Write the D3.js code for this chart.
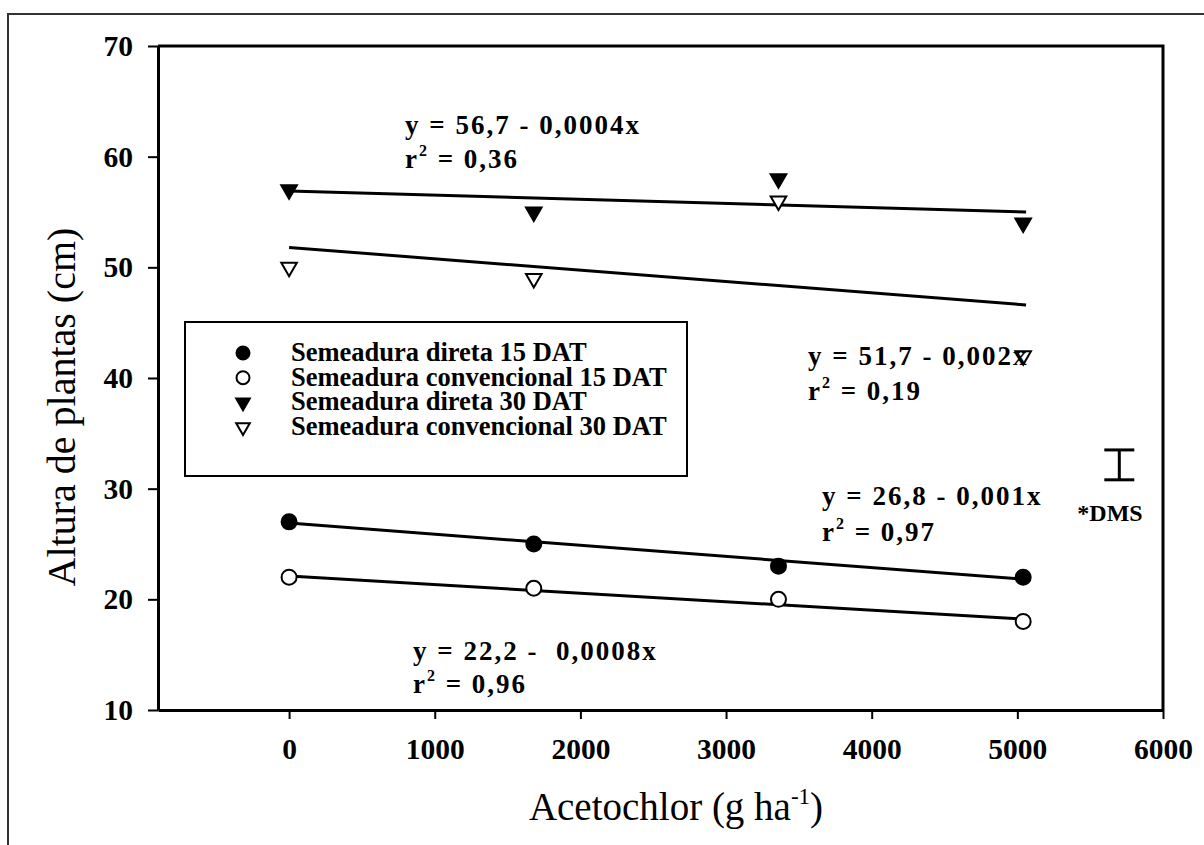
<!DOCTYPE html>
<html><head><meta charset="utf-8">
<script src="https://cdn.jsdelivr.net/npm/d3@7"></script>
<style>html,body{margin:0;padding:0;background:#fff;}svg{display:block;}</style>
</head><body>
<script>
// ---- data ----
const doses = [0, 1680, 3360, 5040];
const seriesNames = ["Semeadura direta 15 DAT","Semeadura convencional 15 DAT","Semeadura direta 30 DAT","Semeadura convencional 30 DAT"];
const direta15 = [27, 25, 23, 22];
const conv15 = [22, 21, 20, 18];
const direta30 = [57, 55, 58, 54];
const conv30 = [50, 49, 56, 42];
const fitX = [0, 5060];
const fitDireta15 = [26.9, 21.8];
const fitConv15 = [22.1, 18.2];
const fitDireta30 = [56.9, 55.0];
const fitConv30 = [51.8, 46.6];
const xTicks = [0, 1000, 2000, 3000, 4000, 5000, 6000];
const yTicks = [10, 20, 30, 40, 50, 60, 70];
const eqText = ["y = 56,7 - 0,0004x", "y = 51,7 - 0,002x", "y = 26,8 - 0,001x", "y = 22,2 -  0,0008x"];
const r2Text = ["0,36", "0,19", "0,97", "0,96"];
const dmsRange = [30.8, 33.5];
const dmsX = 5700;

// ---- layout ----
const W = 1204, H = 845;
const m = {l: 158, t: 46, r: 1163, b: 710};
const svg = d3.select("body").append("svg").attr("width", W).attr("height", H);
const x = d3.scaleLinear().domain([-900, 6000]).range([m.l, m.r]);
const y = d3.scaleLinear().domain([10, 70]).range([m.b, m.t]);
const serif = "'Liberation Serif','Times New Roman',serif";

// outer frame
svg.append("rect").attr("x", 8).attr("y", 14).attr("width", 1300).attr("height", 1000)
  .attr("fill", "none").attr("stroke", "#333").attr("stroke-width", 2);

// axes
const xAxis = svg.append("g").attr("transform", `translate(0,${m.b})`)
  .call(d3.axisBottom(x).tickValues(xTicks).tickSize(9).tickSizeOuter(0).tickPadding(19).tickFormat(d3.format("d")));
const yAxis = svg.append("g").attr("transform", `translate(${m.l},0)`)
  .call(d3.axisLeft(y).tickValues(yTicks).tickSize(10).tickSizeOuter(0).tickPadding(15));
[xAxis, yAxis].forEach(g => {
  g.select(".domain").attr("stroke", "#000").attr("stroke-width", 3);
  g.selectAll(".tick line").attr("stroke", "#000").attr("stroke-width", 2);
  g.selectAll(".tick text").attr("font-family", serif).attr("font-weight", "bold")
    .attr("font-size", 29.5).attr("fill", "#000");
});
// top & right frame of plot
svg.append("path").attr("d", d3.line()([[m.l, m.t], [m.r, m.t], [m.r, m.b]]))
  .attr("fill", "none").attr("stroke", "#000").attr("stroke-width", 3);

// axis titles
svg.append("text").attr("x", 676).attr("y", 820).attr("text-anchor", "middle")
  .attr("font-family", serif).attr("font-size", 39).attr("fill", "#000")
  .call(t => {
    t.append("tspan").text("Acetochlor (g ha");
    t.append("tspan").attr("font-size", 23).attr("dy", -16).text("-1");
    t.append("tspan").attr("dy", 16).text(")");
  });
svg.append("text").attr("transform", "translate(75,407) rotate(-90)").attr("text-anchor", "middle")
  .attr("font-family", serif).attr("font-size", 40).attr("fill", "#000")
  .text("Altura de plantas (cm)");

// regression lines
const line = d3.line().x(d => x(d[0])).y(d => y(d[1]));
[fitDireta15, fitConv15, fitDireta30, fitConv30].forEach(f => {
  svg.append("path").attr("d", line(fitX.map((xv, i) => [xv, f[i]])))
    .attr("fill", "none").attr("stroke", "#000").attr("stroke-width", 3);
});

// markers
const tri = d3.symbol().type(d3.symbolTriangle).size(105)();
const triSmall = d3.symbol().type(d3.symbolTriangle).size(80)();
const series = [
  {vals: direta15, shape: "circle", fill: "#000"},
  {vals: conv15, shape: "circle", fill: "#fff"},
  {vals: direta30, shape: "tri", fill: "#000"},
  {vals: conv30, shape: "tri", fill: "#fff"}
];
series.forEach(s => {
  const g = svg.append("g");
  doses.forEach((dv, i) => {
    if (s.shape === "circle") {
      g.append("circle").attr("cx", x(dv)).attr("cy", y(s.vals[i])).attr("r", 7.5)
        .attr("fill", s.fill).attr("stroke", "#000").attr("stroke-width", 2);
    } else {
      g.append("path").attr("d", tri)
        .attr("transform", `translate(${x(dv)},${y(s.vals[i])}) rotate(180)`)
        .attr("fill", s.fill).attr("stroke", "#000").attr("stroke-width", 2);
    }
  });
});

// equations
const eqPos = [[405, 134, 168], [808, 365, 400], [822, 505, 541], [413, 660, 693]];
eqPos.forEach((p, i) => {
  svg.append("text").attr("x", p[0]).attr("y", p[1]).attr("font-family", serif)
    .attr("font-weight", "bold").attr("font-size", 27).attr("letter-spacing", 2).attr("fill", "#000")
    .style("white-space", "pre").text(eqText[i]);
  const t = svg.append("text").attr("x", p[0]).attr("y", p[2]).attr("font-family", serif)
    .attr("font-weight", "bold").attr("font-size", 27).attr("letter-spacing", 2).attr("fill", "#000");
  t.append("tspan").text("r");
  t.append("tspan").attr("font-size", 16).attr("dy", -12).text("2");
  t.append("tspan").attr("dy", 12).text(" = " + r2Text[i]);
});

// legend
const lg = svg.append("g");
lg.append("rect").attr("x", 185).attr("y", 322).attr("width", 502).attr("height", 154)
  .attr("fill", "#fff").attr("stroke", "#000").attr("stroke-width", 2);
seriesNames.forEach((name, i) => {
  const cy = 353 + i * 24.7;
  const s = series[i];
  if (s.shape === "circle") {
    lg.append("circle").attr("cx", 243).attr("cy", cy).attr("r", 6.5)
      .attr("fill", s.fill).attr("stroke", "#000").attr("stroke-width", 2);
  } else {
    lg.append("path").attr("d", triSmall).attr("transform", `translate(243,${cy}) rotate(180)`)
      .attr("fill", s.fill).attr("stroke", "#000").attr("stroke-width", 2);
  }
  lg.append("text").attr("x", 291).attr("y", cy + 8).attr("font-family", serif)
    .attr("font-weight", "bold").attr("font-size", 26.5).attr("fill", "#000").text(name);
});

// DMS bar
const dx = x(dmsX);
svg.append("path").attr("d", d3.line()([[dx - 15, y(dmsRange[1])], [dx + 15, y(dmsRange[1])]]))
  .attr("stroke", "#000").attr("stroke-width", 3);
svg.append("path").attr("d", d3.line()([[dx - 15, y(dmsRange[0])], [dx + 15, y(dmsRange[0])]]))
  .attr("stroke", "#000").attr("stroke-width", 3);
svg.append("path").attr("d", d3.line()([[dx, y(dmsRange[0])], [dx, y(dmsRange[1])]]))
  .attr("stroke", "#000").attr("stroke-width", 3);
svg.append("text").attr("x", 1110).attr("y", 521).attr("text-anchor", "middle")
  .attr("font-family", serif).attr("font-weight", "bold").attr("font-size", 24).attr("fill", "#000").text("*DMS");
</script>
</body></html>
